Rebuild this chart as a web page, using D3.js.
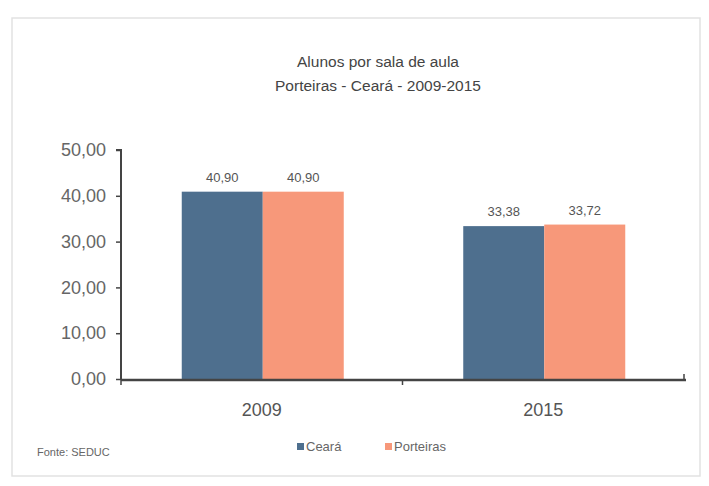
<!DOCTYPE html>
<html>
<head>
<meta charset="utf-8">
<script src="https://cdn.jsdelivr.net/npm/d3@7"></script>
<style>
body{margin:0;background:#fff;}
text{font-family:Arial,"Liberation Sans",sans-serif;}
</style>
</head>
<body>
<div id="chart"></div>
<script>
let anos = ["2009", "2015"];
let series = ["Ceará", "Porteiras"];
let ceara = [40.90, 33.38];
let porteiras = [40.90, 33.72];
let yTicks = [0, 10, 20, 30, 40, 50];
let cores = ["#4e6f8e", "#f7987a"];

let width = 709, height = 486;
let svg = d3.select("#chart").append("svg")
    .attr("width", width)
    .attr("height", height);

// moldura fraca
svg.append("rect")
    .attr("x", 12).attr("y", 18)
    .attr("width", 688).attr("height", 458)
    .attr("fill", "none")
    .attr("stroke", "#e2e2e2")
    .attr("stroke-width", 1.5);

let mLeft = 121, mRight = 684, mTop = 150, mBottom = 379;

let x = d3.scaleBand().domain(anos).range([mLeft, mRight]).paddingInner(0).paddingOuter(0);
let x1 = d3.scaleBand().domain(series).range([0, 162]);
let y = d3.scaleLinear().domain([0, 50]).range([mBottom, mTop]);

// titulo
svg.append("text").text("Alunos por sala de aula")
    .attr("x", 378).attr("y", 67)
    .attr("text-anchor", "middle").attr("font-size", 15.5).attr("fill", "#444");
svg.append("text").text("Porteiras - Ceará - 2009-2015")
    .attr("x", 378).attr("y", 91)
    .attr("text-anchor", "middle").attr("font-size", 15.5).attr("fill", "#444");

let rows = anos.map((a, i) => ({ano: a, vals: [ceara[i], porteiras[i]]}));

let grp = svg.selectAll(".grp").data(rows).enter()
    .append("g")
    .attr("class", "grp")
    .attr("transform", d => "translate(" + (x(d.ano) + x.bandwidth() / 2 - 80) + ",0)");

grp.selectAll("rect").data(d => d.vals.map((v, j) => ({s: series[j], v: v, j: j})))
    .enter().append("rect")
    .attr("x", d => x1(d.s))
    .attr("y", d => y(d.v))
    .attr("width", x1.bandwidth())
    .attr("height", d => y(0) - y(d.v))
    .attr("fill", d => cores[d.j]);

grp.selectAll("text").data(d => d.vals.map((v, j) => ({s: series[j], v: v})))
    .enter().append("text")
    .text(d => d3.format(".2f")(d.v).replace(".", ","))
    .attr("x", d => x1(d.s) + x1.bandwidth() / 2)
    .attr("y", d => y(d.v) - 10)
    .attr("text-anchor", "middle")
    .attr("font-size", 13)
    .attr("fill", "#555");

// eixo y
let yAxis = d3.axisLeft(y)
    .tickValues(yTicks)
    .tickSize(5)
    .tickFormat(d => d3.format(".2f")(d).replace(".", ","));
let gy = svg.append("g").attr("transform", "translate(" + mLeft + ",0)").call(yAxis);
gy.select(".domain").attr("stroke", "#444").attr("stroke-width", 2).attr("d", "M-5," + mTop + "H0V" + mBottom);
gy.selectAll(".tick line").attr("stroke", "#444").attr("stroke-width", 1.5);
gy.selectAll(".tick text").attr("font-size", 18).attr("fill", "#666").attr("x", -15).attr("font-family", "Arial,'Liberation Sans',sans-serif");

// eixo x
let gx = svg.append("g").attr("transform", "translate(0," + mBottom + ")");
gx.append("line").attr("x1", mLeft).attr("x2", mRight + 2).attr("y1", 1).attr("y2", 1)
    .attr("stroke", "#444").attr("stroke-width", 2.5);
gx.selectAll(".xt").data([mLeft, x("2015"), mRight]).enter()
    .append("line")
    .attr("x1", d => d).attr("x2", d => d)
    .attr("y1", (d, i) => i == 2 ? -5 : 0).attr("y2", (d, i) => i == 2 ? 1 : 6)
    .attr("stroke", "#444").attr("stroke-width", 1.5);
gx.selectAll(".xl").data(anos).enter()
    .append("text")
    .text(d => d)
    .attr("x", d => x(d) + x.bandwidth() / 2)
    .attr("y", 37)
    .attr("text-anchor", "middle")
    .attr("font-size", 18)
    .attr("fill", "#555");

// legenda
let leg = svg.selectAll(".leg").data(series).enter()
    .append("g")
    .attr("transform", (d, i) => "translate(" + (297 + i * 88) + ",451)");
leg.append("rect").attr("x", 0).attr("y", -8).attr("width", 7).attr("height", 7)
    .attr("fill", (d, i) => cores[i]);
leg.append("text").text(d => d).attr("x", 9).attr("y", 0)
    .attr("font-size", 13).attr("fill", "#666");

svg.append("text").text("Fonte: SEDUC")
    .attr("x", 37).attr("y", 456)
    .attr("font-size", 11).attr("fill", "#666");
</script>
</body>
</html>
